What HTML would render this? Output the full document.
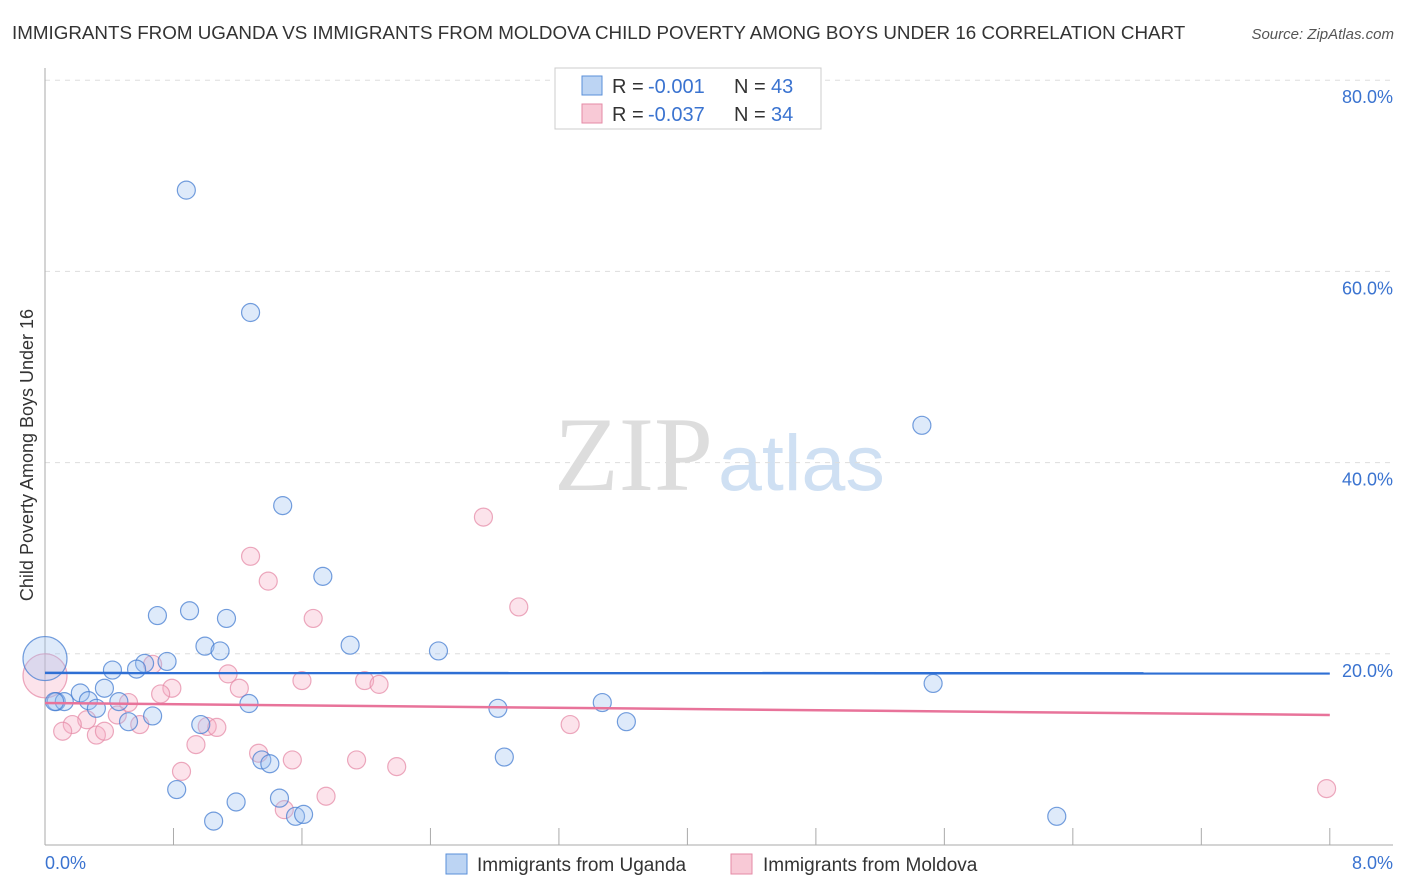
<!DOCTYPE html>
<html><head><meta charset="utf-8"><style>
body{margin:0;background:#fff;font-family:"Liberation Sans",sans-serif;}
svg{display:block}
</style></head><body>
<svg width="1406" height="892">
<text x="12" y="39" font-size="18.8" fill="#333">IMMIGRANTS FROM UGANDA VS IMMIGRANTS FROM MOLDOVA CHILD POVERTY AMONG BOYS UNDER 16 CORRELATION CHART</text>
<text x="1394" y="39" font-size="15" fill="#555" font-style="italic" text-anchor="end">Source: ZipAtlas.com</text>
<text x="713" y="490" font-size="106" fill="#ddd" font-family="Liberation Serif,serif" text-anchor="end">ZIP</text>
<text x="718" y="490" font-size="79" fill="#cfe0f3">atlas</text>
<g id="grid"></g><g id="axes"></g><g id="pts"></g><g id="trend"></g>
<text transform="translate(33,455) rotate(-90)" font-size="18" fill="#333" text-anchor="middle">Child Poverty Among Boys Under 16</text>
<text x="45" y="869" font-size="18" fill="#3a73d0">0.0%</text>
<text x="1393" y="869" font-size="18" fill="#3a73d0" text-anchor="end">8.0%</text>
<g>
<rect x="555" y="68" width="266" height="61" fill="#fff" stroke="#ccc"/>
<rect x="582" y="76" width="20" height="19" fill="#bcd4f3" stroke="#5a8fd8"/>
<rect x="582" y="104" width="20" height="19" fill="#f8c9d6" stroke="#e58aa6"/>
<text x="612" y="93" font-size="20" fill="#333">R =</text>
<text x="648" y="93" font-size="20" fill="#3a73d0">-0.001</text>
<text x="734" y="93" font-size="20" fill="#333">N =</text>
<text x="771" y="93" font-size="20" fill="#3a73d0">43</text>
<text x="612" y="121" font-size="20" fill="#333">R =</text>
<text x="648" y="121" font-size="20" fill="#3a73d0">-0.037</text>
<text x="734" y="121" font-size="20" fill="#333">N =</text>
<text x="771" y="121" font-size="20" fill="#3a73d0">34</text>
</g>
<g>
<rect x="446" y="854" width="21" height="20" fill="#bcd4f3" stroke="#5a8fd8"/>
<text x="477" y="871" font-size="19" fill="#333">Immigrants from Uganda</text>
<rect x="731" y="854" width="21" height="20" fill="#f8c9d6" stroke="#e58aa6"/>
<text x="763" y="871" font-size="19" fill="#333">Immigrants from Moldova</text>
</g>
</svg>
<script>
const yTicks=[20,40,60,80];
const xTicks=[0,0.8,1.6,2.4,3.2,4,4.8,5.6,6.4,7.2,8];
const ugX=[0.88,1.28,5.46,1.48,1.73,0.70,0.90,1.13,1.90,2.45,0.996,1.09,0.76,0.62,0.42,0.57,5.53,0.22,0.07,0.12,0.27,0.32,0.46,0.37,0.67,0.52,1.27,2.82,3.47,3.62,0.97,1.35,1.40,2.86,0.82,1.19,1.46,1.56,1.61,1.05,6.30,0.0,0.06];
const ugY=[68.5,55.7,43.9,35.5,28.1,24.0,24.5,23.7,20.9,20.3,20.8,20.3,19.2,19.0,18.3,18.4,16.9,15.9,15.0,15.0,15.1,14.3,15.0,16.4,13.5,12.9,14.8,14.3,14.9,12.9,12.6,8.9,8.5,9.2,5.8,4.5,4.9,3.0,3.2,2.5,3.0,19.5,15.0];
const moX=[2.73,2.95,1.28,1.39,1.67,0.67,1.14,1.60,1.99,2.08,0.79,1.21,0.72,0.52,0.45,0.26,0.17,0.11,0.32,0.37,0.59,1.01,1.07,0.94,0.85,1.33,1.54,1.94,2.19,3.27,1.75,1.49,7.98,0.0];
const moY=[34.3,24.9,30.2,27.6,23.7,18.9,17.9,17.2,17.2,16.8,16.4,16.4,15.8,14.9,13.6,13.1,12.6,11.9,11.5,11.9,12.6,12.4,12.3,10.5,7.7,9.6,8.9,8.9,8.2,12.6,5.1,3.7,5.9,17.7];
const trendU=[18.0,17.95], trendM=[14.85,13.6];
const X=v=>45+v*160.6, Y=v=>845-v*9.56;
const NS="http://www.w3.org/2000/svg";
function mk(t,p,a){const e=document.createElementNS(NS,t);for(const k in a)e.setAttribute(k,a[k]);p.appendChild(e);return e;}
const g=document.getElementById('grid'),ax=document.getElementById('axes'),pts=document.getElementById('pts'),tr=document.getElementById('trend');
yTicks.forEach(t=>{const l=mk('line',g,{x1:45,x2:1393,y1:Y(t),y2:Y(t),stroke:'#ddd','stroke-dasharray':'5,5'});


const tx=mk('text',g,{x:1393,y:Y(t)+23,'font-size':18,fill:'#3a73d0','text-anchor':'end'});tx.textContent=t.toFixed(1)+'%';

});
const ya=mk('line',ax,{x1:45,x2:45,y1:68,y2:845,stroke:'#aaa'});


const xa=mk('line',ax,{x1:45,x2:1393,y1:845,y2:845,stroke:'#aaa'});


xTicks.forEach(t=>{const l=mk('line',ax,{x1:X(t),x2:X(t),y1:828,y2:845,stroke:'#aaa'});

});
moX.forEach((x,i)=>{const big=i==moX.length-1;const c=mk('circle',pts,{cx:X(x),cy:Y(moY[i]),r:big?22:9,fill:'rgba(245,175,198,0.35)',stroke:'rgba(230,140,168,0.75)','stroke-width':1.2});

});
ugX.forEach((x,i)=>{const big=i==ugX.length-2;const c=mk('circle',pts,{cx:X(x),cy:Y(ugY[i]),r:big?22:9,fill:'rgba(160,195,240,0.35)',stroke:'rgba(70,125,210,0.75)','stroke-width':1.2});

});
const tu=mk('line',tr,{x1:X(0),x2:X(8),y1:Y(trendU[0]),y2:Y(trendU[1]),stroke:'#2e6fd4','stroke-width':2.5});


const tm=mk('line',tr,{x1:X(0),x2:X(8),y1:Y(trendM[0]),y2:Y(trendM[1]),stroke:'#e8739a','stroke-width':2.5});


</script>
</body></html>
